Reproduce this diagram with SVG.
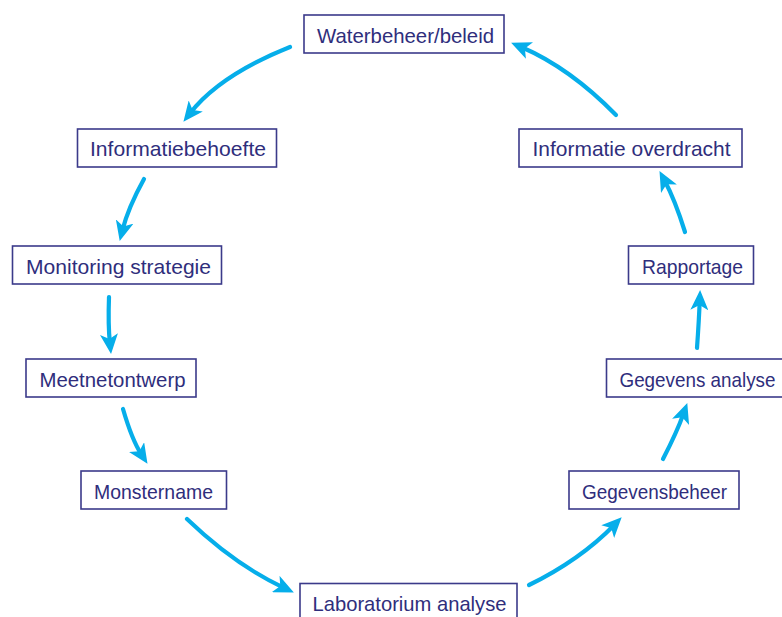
<svg xmlns="http://www.w3.org/2000/svg" width="782" height="617" viewBox="0 0 782 617">
<style>
.box{fill:#fff;stroke:#3b3a8a;stroke-width:1.6}
.lbl{font-family:"Liberation Sans",Arial,sans-serif;font-size:21px;fill:#2f2e7c}
.arr{fill:none;stroke:#06aeea;stroke-width:4.2;stroke-linecap:round}
</style>
<defs>
<marker id="ah" markerUnits="userSpaceOnUse" markerWidth="20" markerHeight="18" viewBox="0 0 20 18" refX="9" refY="9" orient="auto">
<path d="M0,0 L20,9 L0,18 L5,9 z" fill="#06aeea"/>
</marker>
</defs>
<rect width="782" height="617" fill="#fff"/>
<g id="connectors">
<path class="arr" marker-end="url(#ah)" d="M290,47 Q220,75 190.2,113.1"/>
<path class="arr" marker-end="url(#ah)" d="M144,179 Q128,208 122.4,230.3"/>
<path class="arr" marker-end="url(#ah)" d="M109,297 Q108,325 109.9,343.1"/>
<path class="arr" marker-end="url(#ah)" d="M123,409 Q132,440 141.5,454.6"/>
<path class="arr" marker-end="url(#ah)" d="M187,519 Q235,565 283.9,587.8"/>
<path class="arr" marker-end="url(#ah)" d="M529,585 Q580,560 614,525.2"/>
<path class="arr" marker-end="url(#ah)" d="M663,459 Q677,432 683.6,413.4"/>
<path class="arr" marker-end="url(#ah)" d="M697,348 Q699,320 699.7,301"/>
<path class="arr" marker-end="url(#ah)" d="M685,232 Q675,200 664.7,180.8"/>
<path class="arr" marker-end="url(#ah)" d="M616,115 Q570,68 521.2,47"/>
</g>
<g id="waterbeheer"><rect class="box" x="304" y="15" width="200" height="38"/><text class="lbl" x="317" y="43" textLength="177" lengthAdjust="spacingAndGlyphs">Waterbeheer/beleid</text></g>
<g id="informatiebehoefte"><rect class="box" x="77.5" y="129" width="199" height="38"/><text class="lbl" x="90" y="156" textLength="176" lengthAdjust="spacingAndGlyphs">Informatiebehoefte</text></g>
<g id="monitoring"><rect class="box" x="12.5" y="246" width="209" height="38"/><text class="lbl" x="26" y="273.5" textLength="185" lengthAdjust="spacingAndGlyphs">Monitoring strategie</text></g>
<g id="meetnet"><rect class="box" x="26" y="359" width="170" height="38"/><text class="lbl" x="39.5" y="386.5" textLength="146" lengthAdjust="spacingAndGlyphs">Meetnetontwerp</text></g>
<g id="monstername"><rect class="box" x="81" y="471" width="145.5" height="38"/><text class="lbl" x="94" y="498.5" textLength="119" lengthAdjust="spacingAndGlyphs">Monstername</text></g>
<g id="laboratorium"><rect class="box" x="300" y="583.5" width="217" height="45"/><text class="lbl" x="312.5" y="611" textLength="194" lengthAdjust="spacingAndGlyphs">Laboratorium analyse</text></g>
<g id="gegevensbeheer"><rect class="box" x="569" y="471" width="170" height="38"/><text class="lbl" x="582" y="498.5" textLength="145" lengthAdjust="spacingAndGlyphs">Gegevensbeheer</text></g>
<g id="gegevensanalyse"><rect class="box" x="606.5" y="359" width="190" height="38"/><text class="lbl" x="619.5" y="386.5" textLength="156" lengthAdjust="spacingAndGlyphs">Gegevens analyse</text></g>
<g id="rapportage"><rect class="box" x="628.5" y="246" width="125" height="38"/><text class="lbl" x="642" y="273.5" textLength="101" lengthAdjust="spacingAndGlyphs">Rapportage</text></g>
<g id="informatieoverdracht"><rect class="box" x="519" y="129" width="223" height="38"/><text class="lbl" x="532.5" y="156" textLength="198" lengthAdjust="spacingAndGlyphs">Informatie overdracht</text></g>
</svg>
